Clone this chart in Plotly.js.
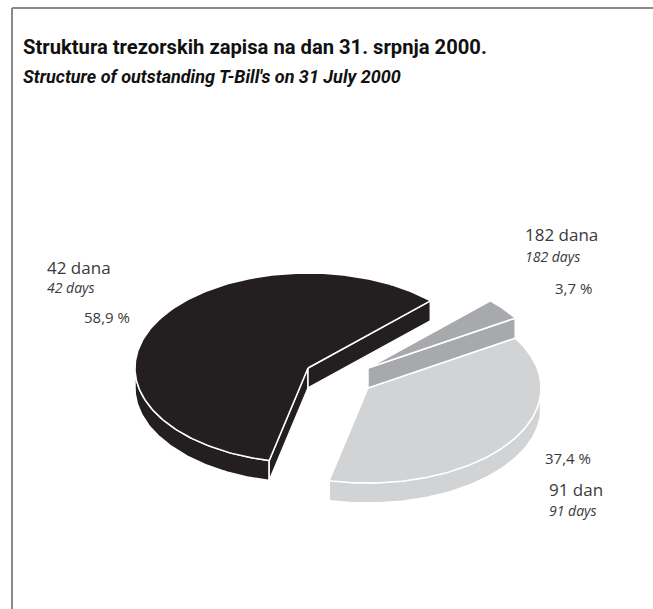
<!DOCTYPE html>
<html><head><meta charset="utf-8">
<script src="https://cdn.plot.ly/plotly-3.0.1.min.js"></script>
<style>html,body{margin:0;padding:0;background:#fff;}#chart{width:653px;height:609px;}</style>
</head><body><div id="chart"></div>
<script>
// ---- data ----
const categoriesHr = ['42 dana', '91 dan', '182 dana'];
const categoriesEn = ['42 days', '91 days', '182 days'];
const shares = [58.9, 37.4, 3.7];
const shareLabels = ['58,9 %', '37,4 %', '3,7 %'];
const titleHr = 'Struktura trezorskih zapisa na dan 31. srpnja 2000.';
const titleEn = "Structure of outstanding T-Bill's on 31 July 2000";

// ---- style / layout ----
const colors = ['#231f20', '#d1d3d4', '#a7a9ac'];
const pull = [[0, 0], [60, 20], [60, 0]];
const geo = {cx: 308, cy: 368, a: 173, b: 95, depth: 20, start: 45};
const labelPos = [
  {name: [45, 267], en: [45, 287], pct: [82, 317]},
  {name: [547, 489], en: [547, 510], pct: [543, 458]},
  {name: [523, 234], en: [523, 256], pct: [553, 288]}
];
const txtColor = '#3a3a3a';
const labelFont = '"Open Sans", "DejaVu Sans", sans-serif';
const titleFontFam = 'Roboto, "Liberation Sans", sans-serif';

const D2R = Math.PI / 180;
function pt(th, ox, oy, dz) {
  return [geo.cx + ox + geo.a * Math.cos(th * D2R), geo.cy + oy - geo.b * Math.sin(th * D2R) + dz];
}
function poly(points, color) {
  const xs = points.map(p => p[0]), ys = points.map(p => p[1]);
  xs.push(xs[0]); ys.push(ys[0]);
  return {type: 'scatter', mode: 'lines', x: xs, y: ys, fill: 'toself', fillcolor: color,
          line: {color: '#ffffff', width: 1.5}, hoverinfo: 'skip', showlegend: false};
}

const total = shares.reduce((s, v) => s + v, 0);
const traces = [];
let cum = 0;
shares.forEach((v, i) => {
  const t1 = geo.start + cum / total * 360;
  const t2 = geo.start + (cum + v) / total * 360;
  cum += v;
  const [ox, oy] = pull[i];
  const col = colors[i];
  let angs = [t1, t2];
  for (let a = Math.ceil(t1); a < t2; a++) angs.push(a);
  [180, 360, 540].forEach(a => { if (a > t1 && a < t2) angs.push(a); });
  angs = Array.from(new Set(angs)).sort((p, q) => p - q);
  // outer side face (front part)
  const front = angs.filter(a => Math.sin(a * D2R) <= 1e-9);
  if (front.length > 1) {
    const top = front.map(a => pt(a, ox, oy, 0));
    const bot = front.slice().reverse().map(a => pt(a, ox, oy, geo.depth));
    traces.push(poly(top.concat(bot), col));
  }
  const C = [geo.cx + ox, geo.cy + oy];
  const Cd = [C[0], C[1] + geo.depth];
  // radial faces
  if (Math.cos(t2 * D2R) < 0) {
    traces.push(poly([C, pt(t2, ox, oy, 0), pt(t2, ox, oy, geo.depth), Cd], col));
  }
  if (Math.cos(t1 * D2R) > 0) {
    traces.push(poly([C, pt(t1, ox, oy, 0), pt(t1, ox, oy, geo.depth), Cd], col));
  }
  // top face
  traces.push(poly([C].concat(angs.map(a => pt(a, ox, oy, 0))), col));
});

const annotations = [
  {x: 21, y: 47, text: '<b>' + titleHr + '</b>', font: {family: titleFontFam, size: 20.2, color: '#111'}},
  {x: 21, y: 76, text: '<b><i>' + titleEn + '</i></b>', font: {family: titleFontFam, size: 18, color: '#111'}}
];
categoriesHr.forEach((c, i) => {
  const p = labelPos[i];
  annotations.push({x: p.name[0], y: p.name[1], text: c, font: {family: labelFont, size: 17, color: txtColor}});
  annotations.push({x: p.en[0], y: p.en[1], text: '<i>' + categoriesEn[i] + '</i>', font: {family: labelFont, size: 14, color: txtColor}});
  annotations.push({x: p.pct[0], y: p.pct[1], text: shareLabels[i], font: {family: labelFont, size: 15, color: txtColor}});
});
annotations.forEach(a => { a.xref = 'x'; a.yref = 'y'; a.xanchor = 'left'; a.yanchor = 'middle'; a.showarrow = false; });

const layout = {
  width: 653, height: 609,
  margin: {l: 0, r: 0, t: 0, b: 0},
  paper_bgcolor: '#ffffff', plot_bgcolor: '#ffffff',
  xaxis: {range: [0, 653], visible: false, fixedrange: true},
  yaxis: {range: [609, 0], visible: false, fixedrange: true},
  showlegend: false,
  annotations: annotations,
  shapes: [
    {type: 'line', xref: 'x', yref: 'y', x0: 12, y0: 8, x1: 653, y1: 8, line: {color: '#8a8a8a', width: 2}},
    {type: 'line', xref: 'x', yref: 'y', x0: 12, y0: 8, x1: 12, y1: 609, line: {color: '#8a8a8a', width: 2}}
  ]
};
Plotly.newPlot('chart', traces, layout, {staticPlot: true, displayModeBar: false});
</script>
</body></html>
